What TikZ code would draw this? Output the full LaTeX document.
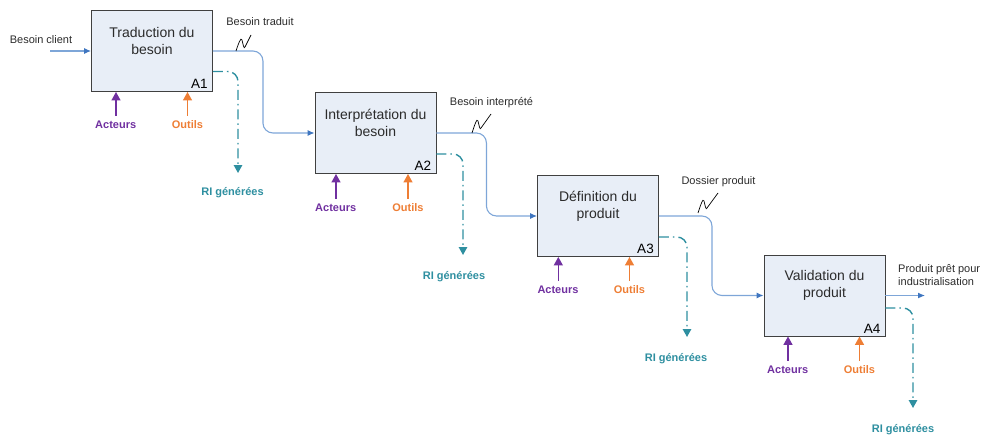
\documentclass[tikz,border=0pt]{standalone}
\usepackage{fontspec}
\setmainfont{Liberation Sans}
\usetikzlibrary{arrows.meta}

\definecolor{boxfill}{HTML}{E8EEF7}
\definecolor{boxline}{HTML}{404040}
\definecolor{flowblue}{HTML}{7EA6D8}
\definecolor{tipblue}{HTML}{3F76C0}
\definecolor{riteal}{HTML}{2E8FA0}
\definecolor{actpurple}{HTML}{7030A0}
\definecolor{tooloranj}{HTML}{EE7E35}
\definecolor{txtgray}{HTML}{2B2B2B}

\tikzset{
  actbox/.style={draw=boxline, fill=boxfill, line width=0.9pt,
    minimum width=121pt, minimum height=81pt, inner sep=0pt},
  boxtitle/.style={align=center, text=txtgray, inner sep=0pt,
    font=\fontsize{14}{17}\selectfont},
  boxref/.style={anchor=south east, inner xsep=5pt, inner ysep=3pt, text=black,
    font=\fontsize{13.5}{15}\selectfont},
  flow/.style={draw=flowblue, line width=1.1pt, rounded corners=10pt,
    -{Latex[length=7pt,width=6pt,color=tipblue]}},
  ri/.style={draw=riteal, line width=1.4pt, rounded corners=10pt,
    dash pattern=on 10pt off 4pt on 1.5pt off 4pt,
    -{Triangle[length=8pt,width=8.5pt,color=riteal]}},
  ctrlarrow/.style={line width=1.4pt, -{Triangle[length=8.5pt,width=9pt]}},
  squig/.style={draw=black, line width=0.7pt},
  smalltxt/.style={text=txtgray, inner sep=0pt,
    font=\fontsize{11}{13.5}\selectfont},
  actlbl/.style={text=actpurple, inner sep=5pt,
    font=\fontsize{11}{13}\selectfont\bfseries},
  toollbl/.style={text=tooloranj, inner sep=5pt,
    font=\fontsize{11}{13}\selectfont\bfseries},
  rilbl/.style={text=riteal, inner sep=0pt,
    font=\fontsize{11}{13}\selectfont\bfseries},
}

\begin{document}
\begin{tikzpicture}[x=1pt,y=-1pt]
\useasboundingbox (0,0) rectangle (987,441);

% activity boxes
\node[actbox] (b1) at (152,51) {};
\node[actbox] (b2) at (375.5,133) {};
\node[actbox] (b3) at (598,216) {};
\node[actbox] (b4) at (824.5,295.5) {};

\node[boxtitle] (t1) at ([yshift=-31pt]b1.north) {Traduction du\\besoin};
\node[boxtitle] (t2) at ([yshift=-31pt]b2.north) {Interprétation du\\besoin};
\node[boxtitle] (t3) at ([yshift=-31pt]b3.north) {Définition du\\produit};
\node[boxtitle] (t4) at ([yshift=-31pt]b4.north) {Validation du\\produit};

\node[boxref] (r1) at (b1.south east) {A1};
\node[boxref] (r2) at (b2.south east) {A2};
\node[boxref] (r3) at (b3.south east) {A3};
\node[boxref] (r4) at (b4.south east) {A4};

% main flow
\coordinate (in) at (50,51);
\coordinate (out) at (925,295.5);
\node[smalltxt] (lin) at (41,40) {Besoin client};
\draw[flow] (in) -- (b1.west);
\draw[flow] (b1.east) -- ([xshift=50pt]b1.east) |- (b2.west);
\draw[flow] (b2.east) -- ([xshift=50pt]b2.east) |- (b3.west);
\draw[flow] (b3.east) -- ([xshift=53pt]b3.east) |- (b4.west);
\draw[flow] (b4.east) -- (out);
\node[smalltxt, align=left, anchor=west] (lout) at (898,275)
  {Produit prêt pour\\industrialisation};

% flow labels with squiggle leaders
\node[smalltxt] (f1) at (260,22) {Besoin traduit};
\node[smalltxt] (f2) at (491.5,103) {Besoin interprété};
\node[smalltxt] (f3) at (718.5,182) {Dossier produit};
\coordinate (s1) at (236,51);
\coordinate (s2) at (472,133);
\coordinate (s3) at (698,213);
\draw[squig] (s1) .. controls +(2,-6) and +(-1,-4) .. ++(6,-11)
  .. controls +(1,4) and +(-1,3) .. ++(3,7) -- ++(6,-12);
\draw[squig] (s2) .. controls +(2,-6) and +(-1,-4) .. ++(6,-12)
  .. controls +(1,4) and +(-1,3) .. ++(3,7) -- ++(10,-14);
\draw[squig] (s3) .. controls +(2,-6) and +(-1,-4) .. ++(6,-12)
  .. controls +(1,4) and +(-1,3) .. ++(3,7) -- ++(11,-15);

% generated RI outputs
\coordinate (e1) at (238,173);
\coordinate (e2) at (463,255);
\coordinate (e3) at (687,337);
\coordinate (e4) at (913,408);
\draw[ri] ([yshift=-20.5pt]b1.east) -| (e1);
\draw[ri] ([yshift=-21pt]b2.east) -| (e2);
\draw[ri] ([yshift=-21pt]b3.east) -| (e3);
\draw[ri] ([yshift=-12.5pt]b4.east) -| (e4);
\node[rilbl] (g1) at (232.5,193) {RI générées};
\node[rilbl] (g2) at (454,277) {RI générées};
\node[rilbl] (g3) at (676,359) {RI générées};
\node[rilbl] (g4) at (903,430) {RI générées};

% actors and tools
\node[actlbl] (ac1) at (115.7,125) {Acteurs};
\node[actlbl] (ac2) at (335.7,208) {Acteurs};
\node[actlbl] (ac3) at (558,290) {Acteurs};
\node[actlbl] (ac4) at (787.7,370) {Acteurs};
\node[toollbl] (to1) at (187.5,125) {Outils};
\node[toollbl] (to2) at (408,208) {Outils};
\node[toollbl] (to3) at (629.5,290) {Outils};
\node[toollbl] (to4) at (859.5,370) {Outils};

\foreach \i in {1,2,3,4}{
  \draw[ctrlarrow, draw=actpurple, fill=actpurple]
    ([xshift=0.3pt]ac\i.north) -- ([xshift=0.3pt]ac\i.north |- b\i.south);
  \draw[ctrlarrow, draw=tooloranj, fill=tooloranj]
    (to\i.north) -- (to\i.north |- b\i.south);
}
\end{tikzpicture}
\end{document}
